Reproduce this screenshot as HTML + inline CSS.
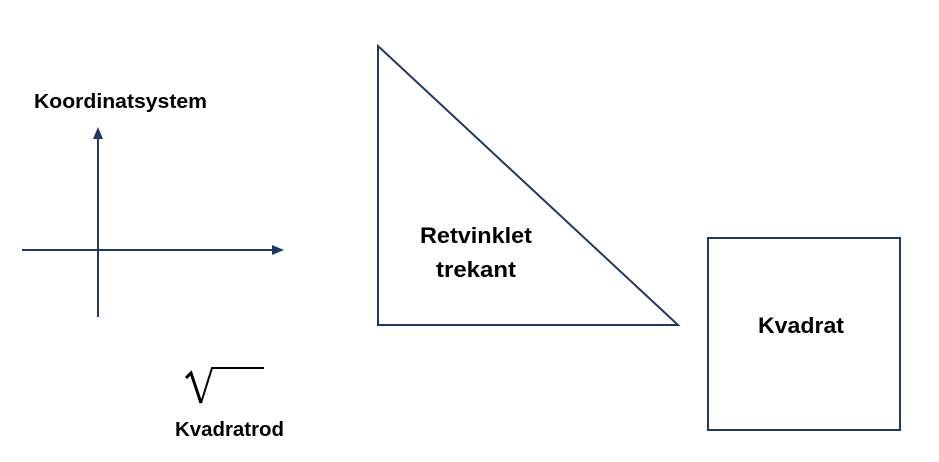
<!DOCTYPE html>
<html><head><meta charset="utf-8"><style>
html,body{margin:0;padding:0;background:#fff;}
svg{display:block;}
text{font-family:"Liberation Sans",sans-serif;font-weight:bold;fill:#000;}
</style></head><body>
<svg width="939" height="462" viewBox="0 0 939 462" xmlns="http://www.w3.org/2000/svg">
<g stroke="#1f3864" stroke-width="2" fill="none">
<line x1="98" y1="317" x2="98" y2="136"/>
<line x1="22" y1="250" x2="275" y2="250"/>
<polygon points="378,46 378,325 678,325" stroke-linejoin="miter"/>
<rect x="708" y="238" width="192" height="192"/>
</g>
<polygon points="98,127 93,139 103,139" fill="#1f3864"/>
<polygon points="284,250 272,245 272,255" fill="#1f3864"/>
<path d="M186,378 L191,373 L201,403" stroke="#000" stroke-width="3" fill="none"/>
<path d="M201,403 L212,368 L264,368" stroke="#000" stroke-width="2" fill="none"/>
<text x="34" y="108" font-size="20" textLength="173" lengthAdjust="spacingAndGlyphs">Koordinatsystem</text>
<text x="175" y="436" font-size="20" textLength="109" lengthAdjust="spacingAndGlyphs">Kvadratrod</text>
<text x="420" y="243" font-size="22" textLength="112" lengthAdjust="spacingAndGlyphs">Retvinklet</text>
<text x="436" y="277" font-size="22" textLength="80" lengthAdjust="spacingAndGlyphs">trekant</text>
<text x="758" y="333" font-size="22" textLength="86" lengthAdjust="spacingAndGlyphs">Kvadrat</text>
</svg>
</body></html>
